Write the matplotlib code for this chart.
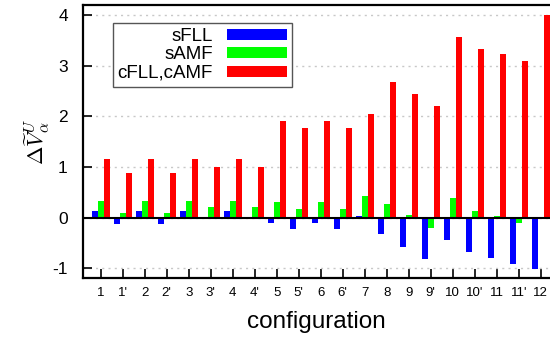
import numpy as np
import matplotlib.pyplot as plt

plt.rcParams['font.family'] = ['Liberation Sans', 'DejaVu Sans']
plt.rcParams['mathtext.fontset'] = 'cm'
plt.rcParams['axes.unicode_minus'] = False

configs = ["1", "1'", "2", "2'", "3", "3'", "4", "4'", "5", "5'", "6", "6'",
           "7", "8", "9", "9'", "10", "10'", "11", "11'", "12"]
sfll = [0.14, -0.12, 0.14, -0.12, 0.14, -0.01, 0.14, -0.01, -0.10, -0.22, -0.10, -0.22,
        0.03, -0.33, -0.57, -0.81, -0.45, -0.68, -0.79, -0.92, -1.02]
samf = [0.34, 0.09, 0.34, 0.09, 0.34, 0.22, 0.34, 0.22, 0.32, 0.18, 0.32, 0.18,
        0.43, 0.28, 0.06, -0.20, 0.38, 0.14, 0.03, -0.11, -0.03]
cfll_camf = [1.15, 0.89, 1.15, 0.89, 1.15, 1.01, 1.15, 1.01, 1.92, 1.78, 1.92, 1.78,
             2.04, 2.69, 2.45, 2.21, 3.57, 3.33, 3.24, 3.10, 4.00]

x = np.arange(len(configs))
w = 0.27

fig = plt.figure(figsize=(5.5, 3.4), dpi=100)
ax = fig.add_axes([0.151, 0.181, 0.849, 0.804])

ax.bar(x - w, sfll, w, color="#0000ff", label="sFLL", zorder=3)
ax.bar(x, samf, w, color="#00ff00", label="sAMF", zorder=3)
ax.bar(x + w, cfll_camf, w, color="#ff0000", label="cFLL,cAMF", zorder=3)

ax.axhline(0, color="black", lw=1.5, zorder=4)
ax.yaxis.grid(True, color="#c8c8c8", linestyle=(0, (1.5, 3)), lw=1)
ax.set_axisbelow(True)

ax.set_xlim(-0.8, 20.42)
ax.set_ylim(-1.2, 4.2)
ax.set_xticks(x)
ax.set_xticklabels(configs)
ax.set_yticks([-1, 0, 1, 2, 3, 4])

ax.spines['right'].set_visible(False)
for s in ['left', 'bottom', 'top']:
    ax.spines[s].set_linewidth(1.6)

ax.tick_params(axis='x', direction='in', length=6.5, width=1.2, labelsize=9.5, pad=6)
ax.tick_params(axis='y', direction='in', length=6.5, width=1.2, labelsize=12.5, pad=11)
ax.tick_params(top=False, right=False)

ax.set_xlabel("configuration", fontsize=17.5, labelpad=8.5)
ax.set_ylabel(r"$\Delta\widetilde{V}_\alpha^U$", fontsize=16, labelpad=1)

leg = ax.legend(loc="upper left", bbox_to_anchor=(0.064, 0.934), borderaxespad=0,
                markerfirst=False, fontsize=13.5, fancybox=False, framealpha=1,
                edgecolor="#555555", handlelength=3.2, handleheight=0.55,
                labelspacing=0.08, handletextpad=0.75, borderpad=0.25)
leg.get_frame().set_linewidth(1)

fig.savefig("out.png", dpi=100)
